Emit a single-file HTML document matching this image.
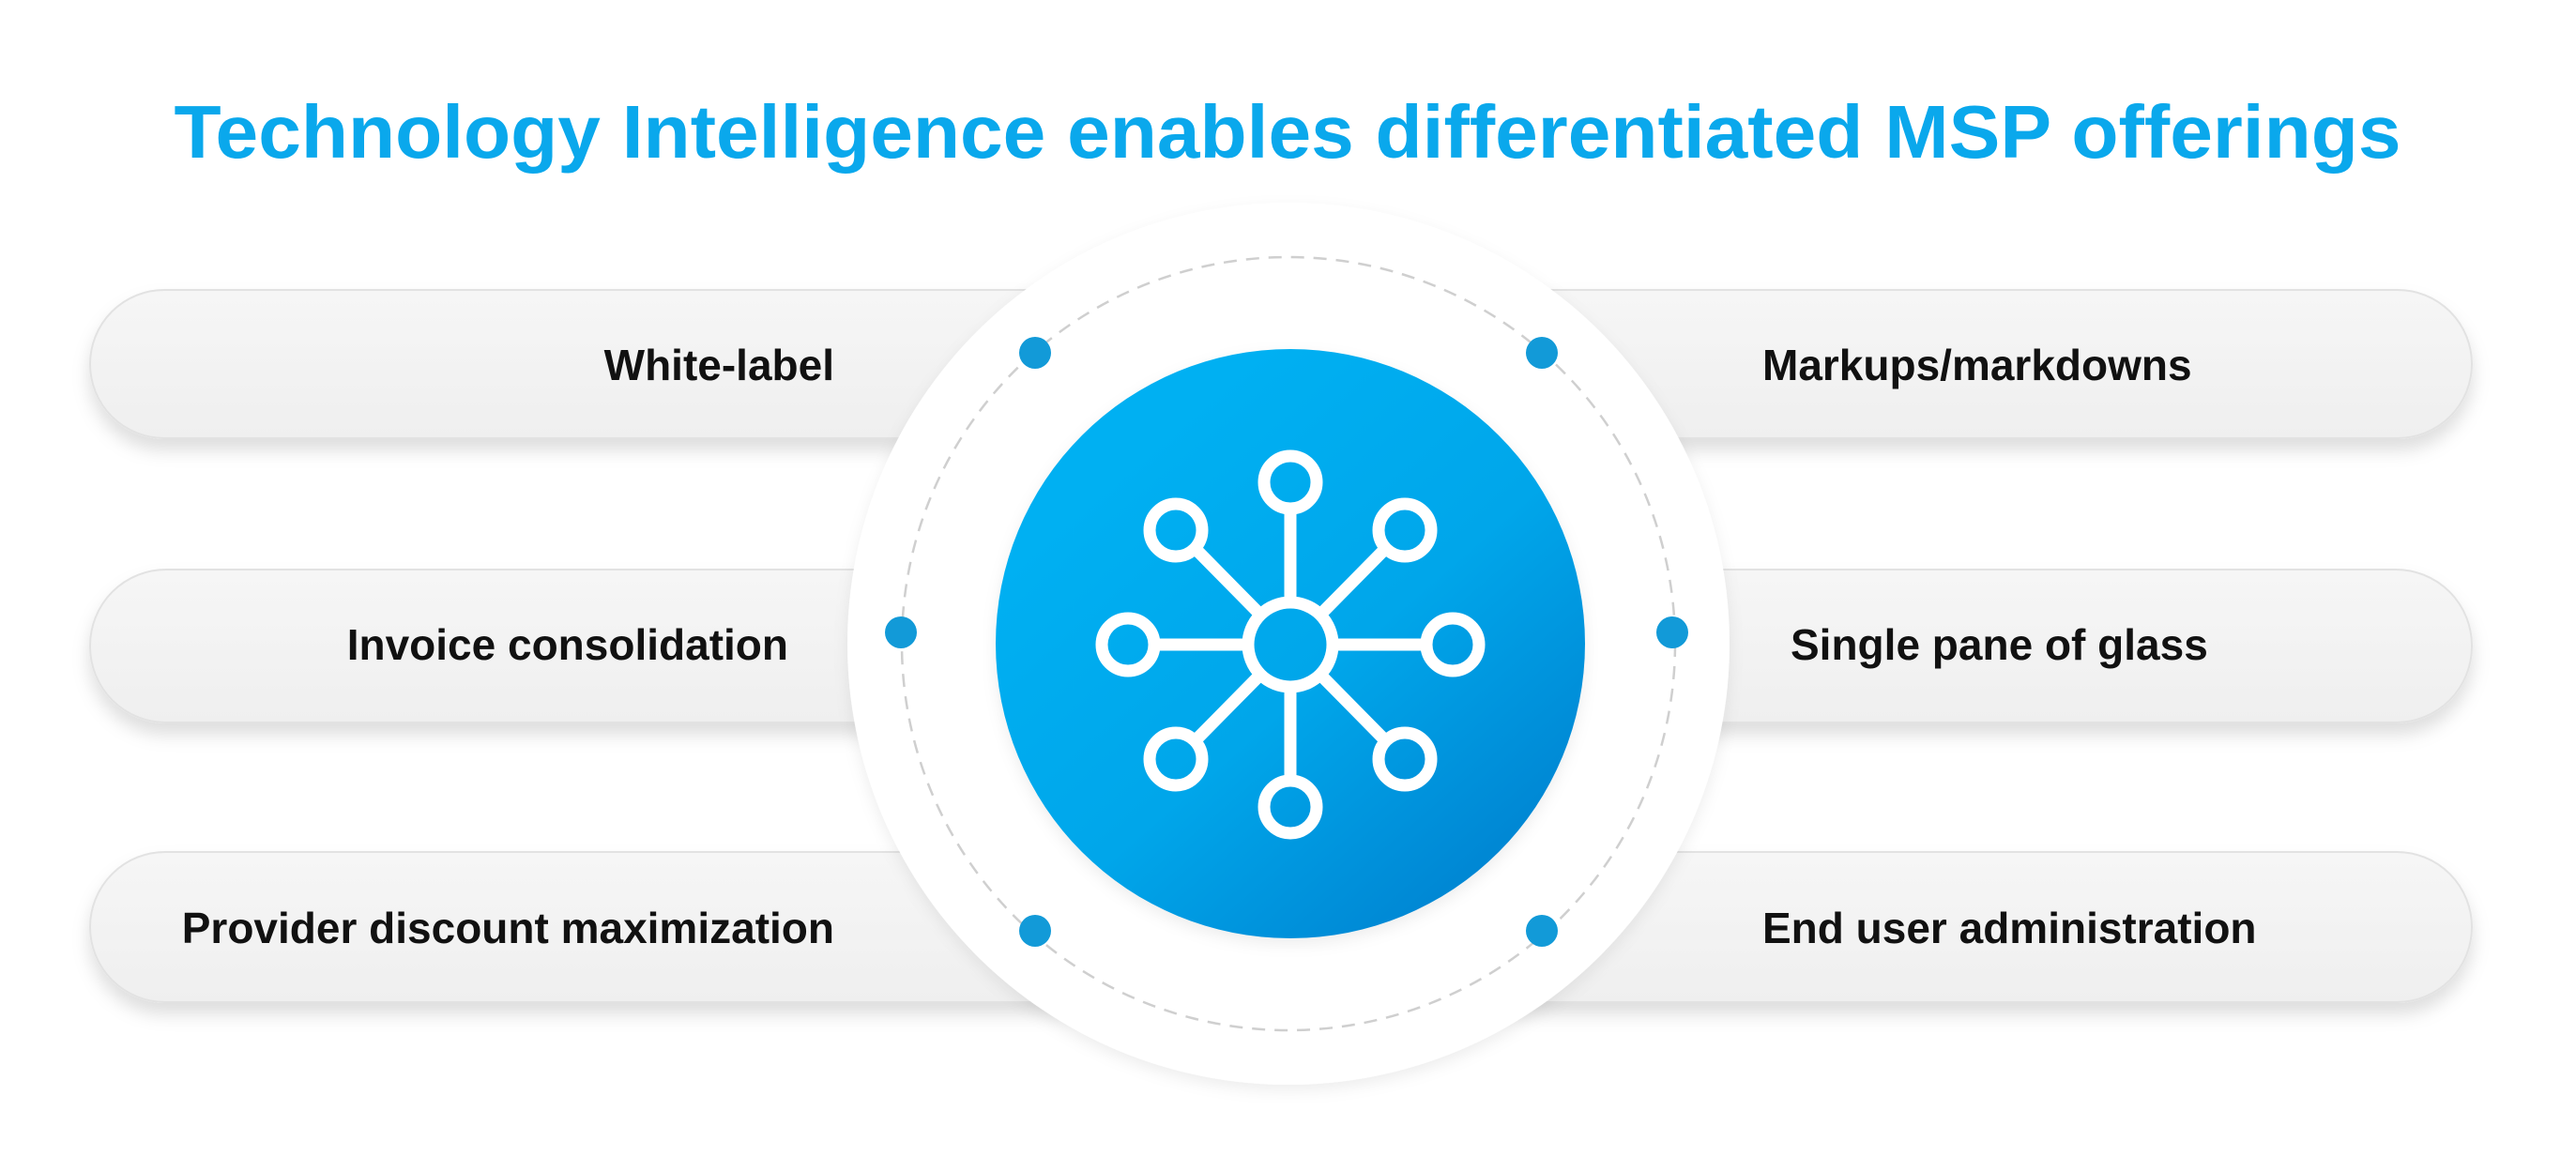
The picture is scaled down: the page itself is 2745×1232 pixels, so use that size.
<!DOCTYPE html>
<html><head><meta charset="utf-8"><style>html,body{margin:0;padding:0;background:#fff}svg{display:block}</style></head>
<body>
<svg width="2745" height="1232" viewBox="0 0 2745 1232" xmlns="http://www.w3.org/2000/svg">
<defs>
<filter id="sh" x="-10%" y="-30%" width="120%" height="180%"><feDropShadow dx="0" dy="12" stdDeviation="9" flood-color="#000" flood-opacity="0.13"/></filter>
<filter id="sh2" x="-20%" y="-20%" width="140%" height="140%"><feDropShadow dx="0" dy="6" stdDeviation="8" flood-color="#000" flood-opacity="0.07"/></filter>
<linearGradient id="pg" x1="0" y1="0" x2="0" y2="1"><stop offset="0" stop-color="#f6f6f6"/><stop offset="1" stop-color="#efefef"/></linearGradient>
<linearGradient id="bg" x1="0.2" y1="0.2" x2="0.85" y2="0.95"><stop offset="0" stop-color="#03b0f2"/><stop offset="0.5" stop-color="#02a6ea"/><stop offset="1" stop-color="#0082d0"/></linearGradient>
</defs>
<text x="1372" y="168" text-anchor="middle" font-family="Liberation Sans, sans-serif" font-weight="bold" font-size="80" fill="#0aa8ec" textLength="2373" lengthAdjust="spacingAndGlyphs">Technology Intelligence enables differentiated MSP offerings</text>
<g filter="url(#sh)" fill="url(#pg)" stroke="#e2e2e2" stroke-width="2">
<rect x="96" y="309" width="1280" height="158" rx="79"/>
<rect x="96" y="607" width="1280" height="163" rx="81"/>
<rect x="96" y="908" width="1280" height="160" rx="80"/>
<rect x="1370" y="309" width="1264" height="158" rx="79"/>
<rect x="1370" y="607" width="1264" height="163" rx="81"/>
<rect x="1370" y="908" width="1264" height="160" rx="80"/>
</g>
<circle cx="1373" cy="686" r="470" fill="#fff" filter="url(#sh2)"/>
<circle cx="1373" cy="686" r="412" fill="none" stroke="#cfcfcf" stroke-width="2.5" stroke-dasharray="14 10"/>
<g fill="#129ad8">
<circle cx="1103" cy="376" r="17"/><circle cx="960" cy="674" r="17"/><circle cx="1103" cy="992" r="17"/>
<circle cx="1643" cy="376" r="17"/><circle cx="1782" cy="674" r="17"/><circle cx="1643" cy="992" r="17"/>
</g>
<circle cx="1375" cy="686" r="314" fill="url(#bg)" filter="url(#sh2)"/>
<g stroke="#fff" stroke-width="13" fill="none">
<circle cx="1375" cy="687" r="45"/>
<line x1="1375" y1="642" x2="1375" y2="542"/><line x1="1375" y1="732" x2="1375" y2="832"/>
<line x1="1330" y1="687" x2="1230" y2="687"/><line x1="1420" y1="687" x2="1520" y2="687"/>
<line x1="1343" y1="655" x2="1274" y2="585"/><line x1="1407" y1="655" x2="1476" y2="585"/>
<line x1="1343" y1="719" x2="1274" y2="789"/><line x1="1407" y1="719" x2="1476" y2="789"/>
<circle cx="1375" cy="514" r="28"/><circle cx="1375" cy="860" r="28"/>
<circle cx="1202" cy="687" r="28"/><circle cx="1548" cy="687" r="28"/>
<circle cx="1253" cy="565" r="28"/><circle cx="1497" cy="565" r="28"/>
<circle cx="1253" cy="809" r="28"/><circle cx="1497" cy="809" r="28"/>
</g>
<g font-family="Liberation Sans, sans-serif" font-weight="bold" font-size="46" fill="#111">
<text x="889" y="405" text-anchor="end">White-label</text>
<text x="840" y="703" text-anchor="end">Invoice consolidation</text>
<text x="889" y="1005" text-anchor="end">Provider discount maximization</text>
<text x="1878" y="405">Markups/markdowns</text>
<text x="1908" y="703">Single pane of glass</text>
<text x="1878" y="1005">End user administration</text>
</g>
</svg>
</body></html>
